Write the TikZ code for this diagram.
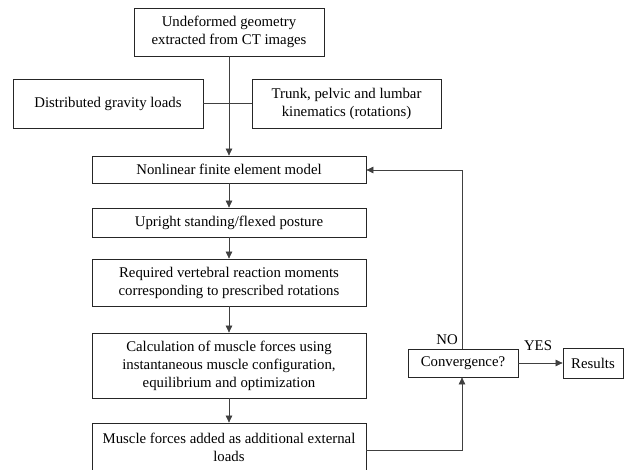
\documentclass[tikz,border=0pt]{standalone}
\usepackage{fontspec}
\setmainfont{Liberation Serif}
\usetikzlibrary{arrows.meta}
\begin{document}
\begin{tikzpicture}[x=1pt,y=-1pt,
  box/.style={draw=black!85,line width=0.8pt,align=center,inner sep=0pt,
    font=\fontsize{14.8}{18}\selectfont},
  conn/.style={draw=black!75,line width=0.7pt},
  arr/.style={conn,-{Triangle[length=7pt,width=6.5pt]}},
  lbl/.style={font=\fontsize{14.8}{18}\selectfont,inner sep=0pt}]
\useasboundingbox (0,0) rectangle (624,470);
\node[box,minimum width=190pt,minimum height=48pt] (top) at (229,32)
  {Undeformed geometry\\extracted from CT images};
\node[box,minimum width=190pt,minimum height=49pt] (dist) at (108,103.5)
  {Distributed gravity loads};
\node[box,minimum width=189pt,minimum height=49pt] (trunk) at (346.5,103.5)
  {Trunk, pelvic and lumbar\\kinematics (rotations)};
\node[box,minimum width=274pt,minimum height=27pt] (nonlin) at (229,169.5)
  {Nonlinear finite element model};
\node[box,minimum width=274pt,minimum height=29pt] (upright) at (229,222.5)
  {Upright standing/flexed posture};
\node[box,minimum width=274pt,minimum height=47pt] (req) at (229,282.5)
  {Required vertebral reaction moments\\corresponding to prescribed rotations};
\node[box,minimum width=274pt,minimum height=65pt] (calc) at (229,365.5)
  {Calculation of muscle forces using\\instantaneous muscle configuration,\\equilibrium and optimization};
\node[box,minimum width=274pt,minimum height=48pt] (muscle) at (229,447)
  {Muscle forces added as additional external\\loads};
\node[box,minimum width=110pt,minimum height=28pt] (conv) at (463,363)
  {Convergence?};
\node[box,minimum width=60pt,minimum height=30pt] (res) at (593,363)
  {Results};
\coordinate (fbtop) at (462,170);
\coordinate (fbbot) at (462,450);
% connectors
\draw[arr] (top.south) -- (nonlin.north);
\draw[conn] (dist.east) -- (trunk.west);
\draw[arr] (nonlin.south) -- (upright.north);
\draw[arr] (upright.south) -- (req.north);
\draw[arr] (req.south) -- (calc.north);
\draw[arr] (calc.south) -- (muscle.north);
\draw[arr] (muscle.east |- fbbot) -- (fbbot) -- (conv.south -| fbbot);
\draw[arr] (conv.north -| fbtop) -- (fbtop) -- (nonlin.east |- fbtop);
\draw[arr] (conv.east) -- (res.west);
\node[lbl] (no) at (447,340) {NO};
\node[lbl] (yes) at (538,346) {YES};
\end{tikzpicture}
\end{document}
